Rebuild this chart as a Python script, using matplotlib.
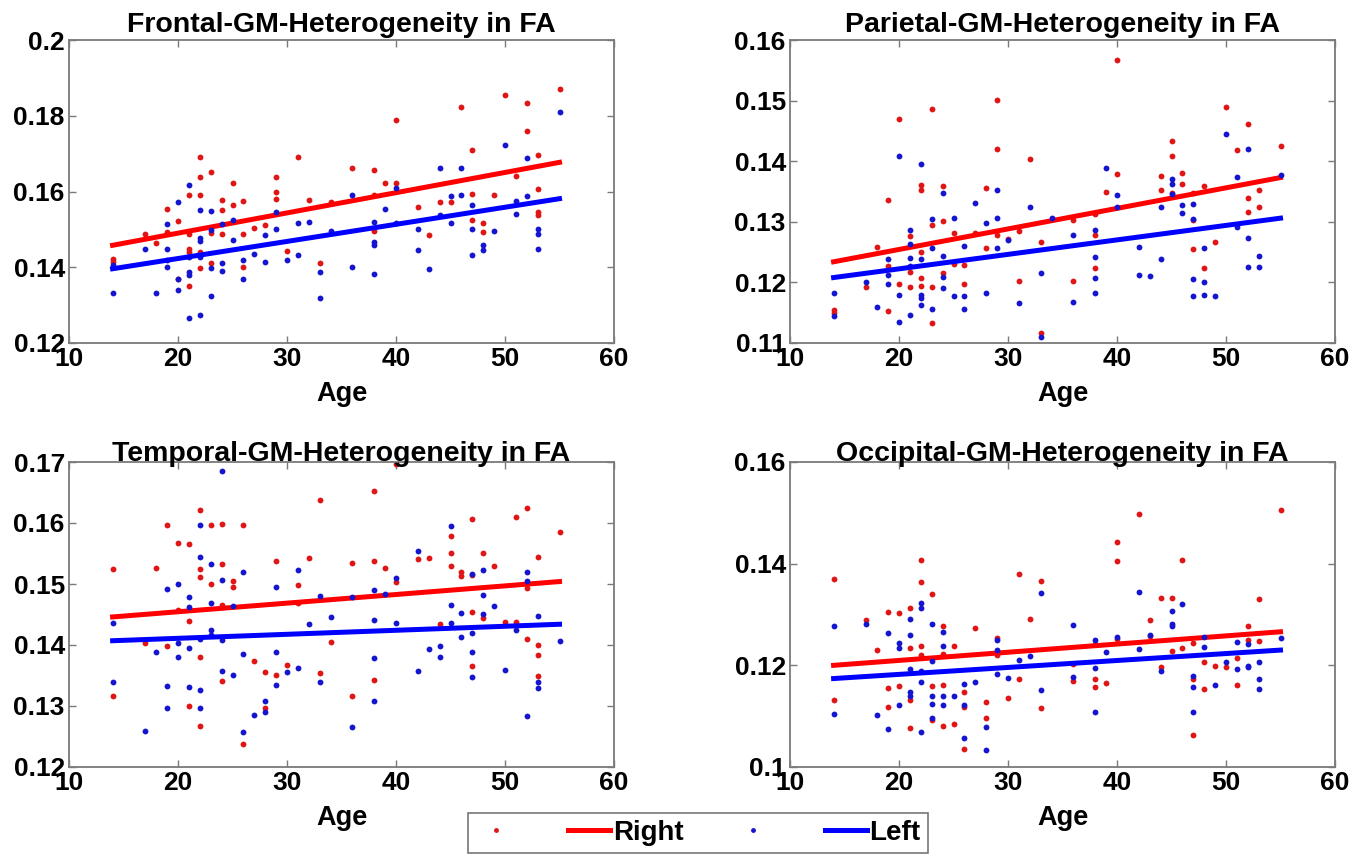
import matplotlib
matplotlib.use('Agg')
import matplotlib.pyplot as plt
from matplotlib.lines import Line2D
from matplotlib.ticker import FuncFormatter

plt.rcParams['font.family'] = ['Liberation Sans', 'DejaVu Sans']
plt.rcParams['font.weight'] = 'bold'

# ---- data ----
# Frontal
frontal_age_r = [14, 14, 17, 18, 19, 19, 20, 20, 21, 21, 21, 21, 21, 22, 22, 22, 22, 22, 23, 23, 23, 24, 24, 24, 25, 25,
                 26, 26, 26, 27, 28, 29, 29, 29, 30, 31, 32, 33, 34, 36, 38, 38, 38, 39, 40, 40, 42, 43, 44, 45, 46,
                 47, 47, 47, 48, 48, 49, 50, 51, 52, 52, 53, 53, 53, 53, 55]
frontal_fa_r = [.1422, .1413, .1489, .1465, .1555, .1493, .1522, .1370, .1591, .1487, .1447, .1440, .1351, .1692, .1637,
                .1590, .1440, .1397, .1651, .1490, .1410, .1578, .1552, .1487, .1622, .1565, .1576, .1487, .1401, .1504,
                .1511, .1638, .1600, .1579, .1442, .1690, .1578, .1410, .1572, .1661, .1657, .1591, .1495, .1622, .1789,
                .1622, .1559, .1486, .1572, .1572, .1824, .1710, .1594, .1524, .1518, .1493, .1591, .1855, .1642, .1833,
                .1759, .1697, .1607, .1546, .1539, .1870]
frontal_age_l = [14, 14, 17, 18, 19, 19, 19, 19, 20, 20, 20, 21, 21, 21, 21, 21, 22, 22, 22, 22, 22, 23, 23, 23, 23, 24,
                 24, 24, 25, 25, 26, 26, 27, 28, 28, 29, 29, 30, 31, 31, 32, 33, 33, 34, 36, 36, 38, 38, 38, 38, 39,
                 40, 40, 42, 42, 43, 44, 44, 45, 45, 46, 46, 47, 47, 47, 48, 48, 49, 50, 51, 51, 52, 52, 53, 53, 53, 55]
frontal_fa_l = [.1405, .1333, .1447, .1331, .1515, .1449, .1419, .1401, .1571, .1370, .1341, .1618, .1427, .1388, .1379,
                .1267, .1550, .1476, .1469, .1427, .1274, .1548, .1498, .1397, .1325, .1513, .1410, .1391, .1524, .1473,
                .1419, .1370, .1434, .1485, .1413, .1546, .1502, .1419, .1517, .1432, .1519, .1388, .1320, .1495, .1592,
                .1401, .1519, .1467, .1458, .1381, .1555, .1610, .1517, .1502, .1445, .1395, .1663, .1537, .1588, .1518,
                .1663, .1590, .1565, .1500, .1432, .1458, .1445, .1495, .1723, .1575, .1540, .1689, .1588, .1500, .1487,
                .1447, .1809]

# Parietal
parietal_age_r = [14, 14, 17, 18, 19, 19, 19, 20, 20, 21, 21, 21, 22, 22, 22, 22, 22, 23, 23, 23, 23, 24, 24, 24, 25, 25,
                  26, 26, 27, 28, 28, 29, 29, 29, 30, 31, 31, 32, 33, 33, 36, 36, 38, 38, 38, 39, 40, 40, 44, 44, 45,
                  45, 45, 46, 46, 47, 47, 47, 48, 48, 49, 50, 51, 52, 52, 52, 53, 53, 55]
parietal_fa_r = [.1155, .1149, .1192, .1259, .1336, .1227, .1153, .1470, .1198, .1276, .1217, .1192, .1361, .1353, .1250,
                 .1208, .1194, .1486, .1295, .1133, .1193, .1359, .1302, .1216, .1282, .1231, .1229, .1197, .1281, .1355,
                 .1256, .1501, .1420, .1279, .1271, .1284, .1202, .1404, .1266, .1116, .1303, .1202, .1313, .1279, .1223,
                 .1350, .1567, .1379, .1375, .1353, .1434, .1408, .1347, .1380, .1363, .1303, .1255, .1347, .1359, .1224,
                 .1266, .1490, .1418, .1462, .1340, .1316, .1353, .1324, .1425]
parietal_age_l = [14, 14, 17, 18, 19, 19, 19, 20, 20, 20, 21, 21, 21, 21, 21, 22, 22, 22, 22, 22, 23, 23, 23, 24, 24, 24,
                  24, 25, 25, 26, 26, 26, 27, 28, 28, 29, 29, 29, 30, 31, 32, 33, 33, 34, 36, 36, 38, 38, 38, 38, 39,
                  40, 40, 42, 42, 43, 44, 44, 45, 45, 45, 46, 46, 47, 47, 47, 47, 48, 48, 48, 49, 50, 51, 51, 52, 52,
                  52, 53, 53, 55]
parietal_fa_l = [.1182, .1145, .1201, .1160, .1239, .1213, .1198, .1408, .1179, .1135, .1286, .1264, .1240, .1227, .1146,
                 .1396, .1239, .1179, .1174, .1163, .1305, .1256, .1156, .1347, .1243, .1209, .1190, .1306, .1177, .1260,
                 .1177, .1156, .1331, .1298, .1182, .1352, .1306, .1256, .1270, .1166, .1325, .1216, .1110, .1306, .1279,
                 .1168, .1286, .1242, .1208, .1182, .1388, .1345, .1324, .1258, .1213, .1211, .1324, .1238, .1371, .1363,
                 .1346, .1328, .1315, .1330, .1304, .1205, .1178, .1257, .1200, .1179, .1178, .1445, .1374, .1291, .1420,
                 .1274, .1226, .1243, .1225, .1378]

# Temporal
temporal_age_r = [14, 14, 17, 18, 19, 19, 20, 20, 21, 21, 21, 22, 22, 22, 22, 22, 23, 23, 24, 24, 24, 24, 25, 25, 26, 26,
                  27, 28, 28, 29, 29, 30, 31, 31, 32, 33, 33, 34, 36, 36, 38, 38, 38, 39, 40, 40, 42, 43, 44, 45, 45,
                  45, 46, 46, 47, 47, 47, 47, 48, 48, 49, 50, 51, 51, 52, 52, 52, 53, 53, 53, 53, 55]
temporal_fa_r = [.1525, .1317, .1403, .1526, .1596, .1398, .1568, .1457, .1565, .1439, .1300, .1622, .1524, .1512, .1380,
                 .1268, .1596, .1500, .1598, .1532, .1466, .1341, .1505, .1495, .1596, .1237, .1374, .1355, .1297, .1537,
                 .1351, .1368, .1499, .1469, .1543, .1637, .1354, .1405, .1534, .1317, .1653, .1537, .1342, .1527, .1696,
                 .1504, .1541, .1543, .1435, .1579, .1551, .1529, .1519, .1513, .1606, .1515, .1454, .1366, .1551, .1445,
                 .1529, .1437, .1610, .1437, .1625, .1493, .1410, .1544, .1400, .1384, .1349, .1585]
temporal_age_l = [14, 14, 17, 18, 19, 19, 19, 20, 20, 20, 21, 21, 21, 21, 22, 22, 22, 22, 22, 23, 23, 23, 23, 24, 24, 24,
                  24, 25, 25, 26, 26, 26, 27, 28, 28, 29, 29, 29, 30, 31, 31, 32, 33, 33, 34, 36, 36, 38, 38, 38, 38,
                  39, 40, 40, 42, 42, 43, 44, 44, 45, 45, 45, 46, 46, 47, 47, 47, 47, 48, 48, 48, 49, 50, 51, 52, 52,
                  52, 53, 53, 53, 55]
temporal_fa_l = [.1436, .1339, .1259, .1389, .1491, .1332, .1296, .1500, .1403, .1381, .1479, .1462, .1395, .1331, .1596,
                 .1544, .1410, .1326, .1297, .1532, .1469, .1425, .1417, .1685, .1507, .1409, .1357, .1464, .1351, .1519,
                 .1385, .1257, .1285, .1308, .1290, .1495, .1389, .1335, .1356, .1523, .1362, .1434, .1480, .1339, .1446,
                 .1479, .1266, .1490, .1441, .1378, .1308, .1483, .1510, .1436, .1554, .1358, .1394, .1398, .1381, .1595,
                 .1465, .1436, .1452, .1413, .1516, .1420, .1389, .1347, .1523, .1482, .1450, .1464, .1359, .1424, .1519,
                 .1505, .1283, .1447, .1340, .1329, .1407]

# Occipital
occipital_age_r = [14, 14, 17, 18, 19, 19, 19, 20, 20, 21, 21, 21, 21, 22, 22, 22, 22, 23, 23, 23, 24, 24, 24, 24, 25, 25,
                   26, 26, 26, 27, 28, 28, 29, 29, 30, 31, 31, 32, 33, 33, 36, 36, 38, 38, 38, 39, 40, 40, 40, 42, 43,
                   43, 44, 44, 45, 45, 46, 46, 47, 47, 47, 48, 48, 49, 50, 51, 51, 52, 52, 53, 53, 55]
occipital_fa_r = [.1369, .1131, .1289, .1230, .1305, .1156, .1119, .1302, .1159, .1313, .1235, .1131, .1077, .1407, .1363,
                  .1238, .1220, .1341, .1159, .1092, .1277, .1223, .1161, .1081, .1238, .1084, .1148, .1118, .1035, .1274,
                  .1127, .1096, .1254, .1220, .1136, .1379, .1174, .1291, .1366, .1117, .1169, .1202, .1174, .1157, .1241,
                  .1166, .1443, .1405, .1251, .1497, .1289, .1258, .1197, .1332, .1228, .1333, .1407, .1235, .1243, .1173,
                  .1063, .1207, .1154, .1199, .1197, .1215, .1161, .1277, .1249, .1330, .1248, .1506]
occipital_age_l = [14, 14, 17, 18, 19, 19, 20, 20, 20, 21, 21, 21, 21, 21, 22, 22, 22, 22, 22, 23, 23, 23, 23, 23, 24, 24,
                   24, 24, 25, 26, 26, 26, 27, 28, 28, 29, 29, 29, 30, 31, 32, 33, 33, 36, 36, 38, 38, 38, 39, 40, 42,
                   42, 43, 44, 45, 45, 45, 46, 47, 47, 47, 48, 48, 49, 50, 51, 51, 52, 52, 52, 53, 53, 53, 55]
occipital_fa_l = [.1277, .1104, .1281, .1102, .1264, .1075, .1243, .1234, .1122, .1292, .1259, .1192, .1148, .1140, .1323,
                  .1313, .1189, .1167, .1068, .1282, .1209, .1140, .1123, .1096, .1266, .1239, .1122, .1139, .1140, .1164,
                  .1122, .1058, .1168, .1079, .1033, .1249, .1230, .1182, .1176, .1210, .1218, .1343, .1151, .1279, .1178,
                  .1249, .1194, .1108, .1226, .1255, .1344, .1233, .1260, .1189, .1306, .1281, .1277, .1320, .1179, .1157,
                  .1108, .1256, .1236, .1161, .1207, .1245, .1193, .1241, .1199, .1196, .1207, .1173, .1153, .1253]

# fitted lines, read at age 14 and age 55
fit_ages = [14, 55]
frontal_fit_r = [0.1458, 0.1677]
frontal_fit_l = [0.1396, 0.1581]
parietal_fit_r = [0.1234, 0.1373]
parietal_fit_l = [0.1208, 0.1306]
temporal_fit_r = [0.1446, 0.1504]
temporal_fit_l = [0.1407, 0.1434]
occipital_fit_r = [0.1200, 0.1266]
occipital_fit_l = [0.1174, 0.1230]

titles = ['Frontal-GM-Heterogeneity in FA', 'Parietal-GM-Heterogeneity in FA',
          'Temporal-GM-Heterogeneity in FA', 'Occipital-GM-Heterogeneity in FA']
y_limits = [(0.12, 0.2), (0.11, 0.16), (0.12, 0.17), (0.1, 0.16)]
y_steps = [0.02, 0.01, 0.01, 0.02]
x_ticks = [10, 20, 30, 40, 50, 60]

panels = [
    (frontal_age_r, frontal_fa_r, frontal_age_l, frontal_fa_l, frontal_fit_r, frontal_fit_l),
    (parietal_age_r, parietal_fa_r, parietal_age_l, parietal_fa_l, parietal_fit_r, parietal_fit_l),
    (temporal_age_r, temporal_fa_r, temporal_age_l, temporal_fa_l, temporal_fit_r, temporal_fit_l),
    (occipital_age_r, occipital_fa_r, occipital_age_l, occipital_fa_l, occipital_fit_r, occipital_fit_l),
]

W, H = 1366, 857
fig = plt.figure(figsize=(W / 100, H / 100), dpi=100)

# axes boxes in pixels: left, right, top, bottom
boxes = [(69, 614, 40, 343), (790, 1335, 40, 343),
         (69, 614, 462, 767), (790, 1335, 462, 767)]

red_dot = '#e01515'
blue_dot = '#1515d0'

for i, (box, data) in enumerate(zip(boxes, panels)):
    l, r, t, b = box
    ax = fig.add_axes([l / W, 1 - b / H, (r - l) / W, (b - t) / H])
    age_r, fa_r, age_l, fa_l, fit_r, fit_l = data
    ax.plot(age_r, fa_r, 'o', color=red_dot, ms=4.2, mec='none')
    ax.plot(fit_ages, fit_r, '-', color='#ff0000', lw=3.6)
    ax.plot(age_l, fa_l, 'o', color=blue_dot, ms=4.2, mec='none')
    ax.plot(fit_ages, fit_l, '-', color='#0000ff', lw=3.6)

    lo, hi = y_limits[i]
    n = int(round((hi - lo) / y_steps[i]))
    ax.set_ylim(lo, hi)
    ax.set_yticks([lo + k * y_steps[i] for k in range(n + 1)])
    ax.yaxis.set_major_formatter(FuncFormatter(lambda v, p: '{:g}'.format(round(v, 3))))
    ax.set_xlim(10, 60)
    ax.set_xticks(x_ticks)

    for s in ax.spines.values():
        s.set_color('#7a7a7a')
        s.set_linewidth(1.3)
    ax.tick_params(direction='in', top=True, right=True, length=5, width=1,
                   color='#7a7a7a', labelsize=19, pad=3)
    for lab in ax.get_xticklabels() + ax.get_yticklabels():
        lab.set_fontweight('bold')
    ax.set_title(titles[i], fontsize=20.5, fontweight='bold', pad=6 if i < 2 else 1)
    ax.set_xlabel('Age', fontsize=19.5, fontweight='bold', labelpad=7)

handles = [Line2D([], [], ls='none', marker='o', ms=3.5, color=red_dot, mec='none'),
           Line2D([], [], color='#ff0000', lw=3.6),
           Line2D([], [], ls='none', marker='o', ms=3.5, color=blue_dot, mec='none'),
           Line2D([], [], color='#0000ff', lw=3.6)]
leg = fig.legend(handles, ['', 'Right', '', 'Left'], ncol=4, loc='lower center',
                 bbox_to_anchor=(0.511, 0.0), frameon=True, fancybox=False,
                 prop={'size': 20, 'weight': 'bold'}, handlelength=1.5,
                 handletextpad=0.1, columnspacing=1.75, borderpad=0.25,
                 borderaxespad=0.15)
leg.get_frame().set_edgecolor('#555555')
leg.get_frame().set_linewidth(1.2)

fig.savefig('out.png', dpi=100)
